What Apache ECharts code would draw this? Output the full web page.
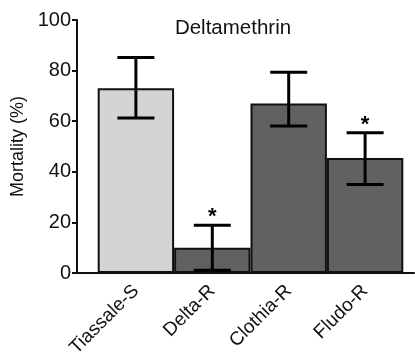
<!DOCTYPE html>
<html>
<head>
<meta charset="utf-8">
<script src="https://cdn.jsdelivr.net/npm/echarts@6/dist/echarts.min.js"></script>
<style>
html,body{margin:0;padding:0;background:#fff;}
#chart{width:415px;height:360px;}
</style>
</head>
<body>
<div id="chart"></div>
<script>
const categories = ['Tiassale-S', 'Delta-R', 'Clothia-R', 'Fludo-R'];
const mortality = [73, 10, 67, 45.5];
const errLow = [61.3, 1.1, 58.1, 35];
const errHigh = [85.2, 18.9, 79.3, 55.4];
const significance = ['', '*', '', '*'];
const yTicks = [0, 20, 40, 60, 80, 100];

const FONT = '"Liberation Sans", Arial, Helvetica, sans-serif';
const chart = echarts.init(document.getElementById('chart'), null, {renderer: 'canvas'});

const errData = categories.map((c, i) => [i, errLow[i], errHigh[i], significance[i]]);

const option = {
  animation: false,
  backgroundColor: '#ffffff',
  title: {
    text: 'Deltamethrin',
    left: 228,
    top: 13,
    textAlign: 'center',
    textStyle: {fontFamily: FONT, fontSize: 20.5, fontWeight: 'normal', color: '#111'}
  },
  grid: [
    {left: 97.7, right: 11.7, top: 20, bottom: 87, containLabel: false},
    {left: 77, right: 1, top: 20, bottom: 87, containLabel: false}
  ],
  xAxis: [
    {
      type: 'category',
      gridIndex: 0,
      data: categories,
      axisLine: {show: false},
      axisTick: {show: false},
      axisLabel: {
        rotate: 45,
        margin: 15,
        interval: 0,
        padding: [10, 0, 0, 0],
        fontFamily: FONT,
        fontSize: 19,
        color: '#111'
      }
    },
    {
      type: 'value',
      gridIndex: 1,
      min: 0,
      max: 1,
      axisLine: {show: true, lineStyle: {color: '#111', width: 2}},
      axisTick: {show: false},
      axisLabel: {show: false},
      splitLine: {show: false}
    }
  ],
  yAxis: [
    {
      type: 'value',
      gridIndex: 0,
      min: 0,
      max: 100,
      interval: 20,
      offset: 20.7,
      name: 'Mortality (%)',
      nameLocation: 'middle',
      nameGap: 50,
      nameRotate: 90,
      nameTextStyle: {fontFamily: FONT, fontSize: 18, color: '#111'},
      axisLine: {show: true, lineStyle: {color: '#111', width: 2}},
      axisTick: {show: true, length: 5, lineStyle: {color: '#111', width: 2}},
      axisLabel: {
        margin: 6,
        fontFamily: FONT,
        fontSize: 20,
        color: '#111',
        formatter: v => (yTicks.includes(v) ? String(v) : '')
      },
      splitLine: {show: false}
    },
    {
      type: 'value',
      gridIndex: 1,
      min: 0,
      max: 100,
      show: false
    }
  ],
  series: [
    {
      type: 'bar',
      xAxisIndex: 0,
      yAxisIndex: 0,
      data: mortality,
      barCategoryGap: '0%',
      itemStyle: {
        color: p => (p.dataIndex === 0 ? '#d4d4d4' : '#616161'),
        borderColor: '#111',
        borderWidth: 2
      },
      z: 2
    },
    {
      type: 'custom',
      xAxisIndex: 0,
      yAxisIndex: 0,
      data: errData,
      z: 5,
      renderItem: function (params, api) {
        const x = api.coord([api.value(0), 0])[0];
        const lo = api.coord([api.value(0), api.value(1)])[1];
        const hi = api.coord([api.value(0), api.value(2)])[1];
        const sig = significance[params.dataIndex];
        const hw = 18.5;
        const style = {stroke: '#000', lineWidth: 3};
        const children = [
          {type: 'line', shape: {x1: x, y1: hi, x2: x, y2: lo}, style: {stroke: '#000', lineWidth: 3}},
          {type: 'line', shape: {x1: x - hw, y1: hi, x2: x + hw, y2: hi}, style: style},
          {type: 'line', shape: {x1: x - hw, y1: lo, x2: x + hw, y2: lo}, style: style}
        ];
        if (sig) {
          children.push({
            type: 'text',
            style: {
              text: sig,
              x: x,
              y: hi + 3,
              align: 'center',
              verticalAlign: 'bottom',
              font: 'bold 22px ' + FONT,
              fill: '#000'
            }
          });
        }
        return {type: 'group', children: children};
      }
    }
  ]
};
chart.setOption(option);
</script>
</body>
</html>
